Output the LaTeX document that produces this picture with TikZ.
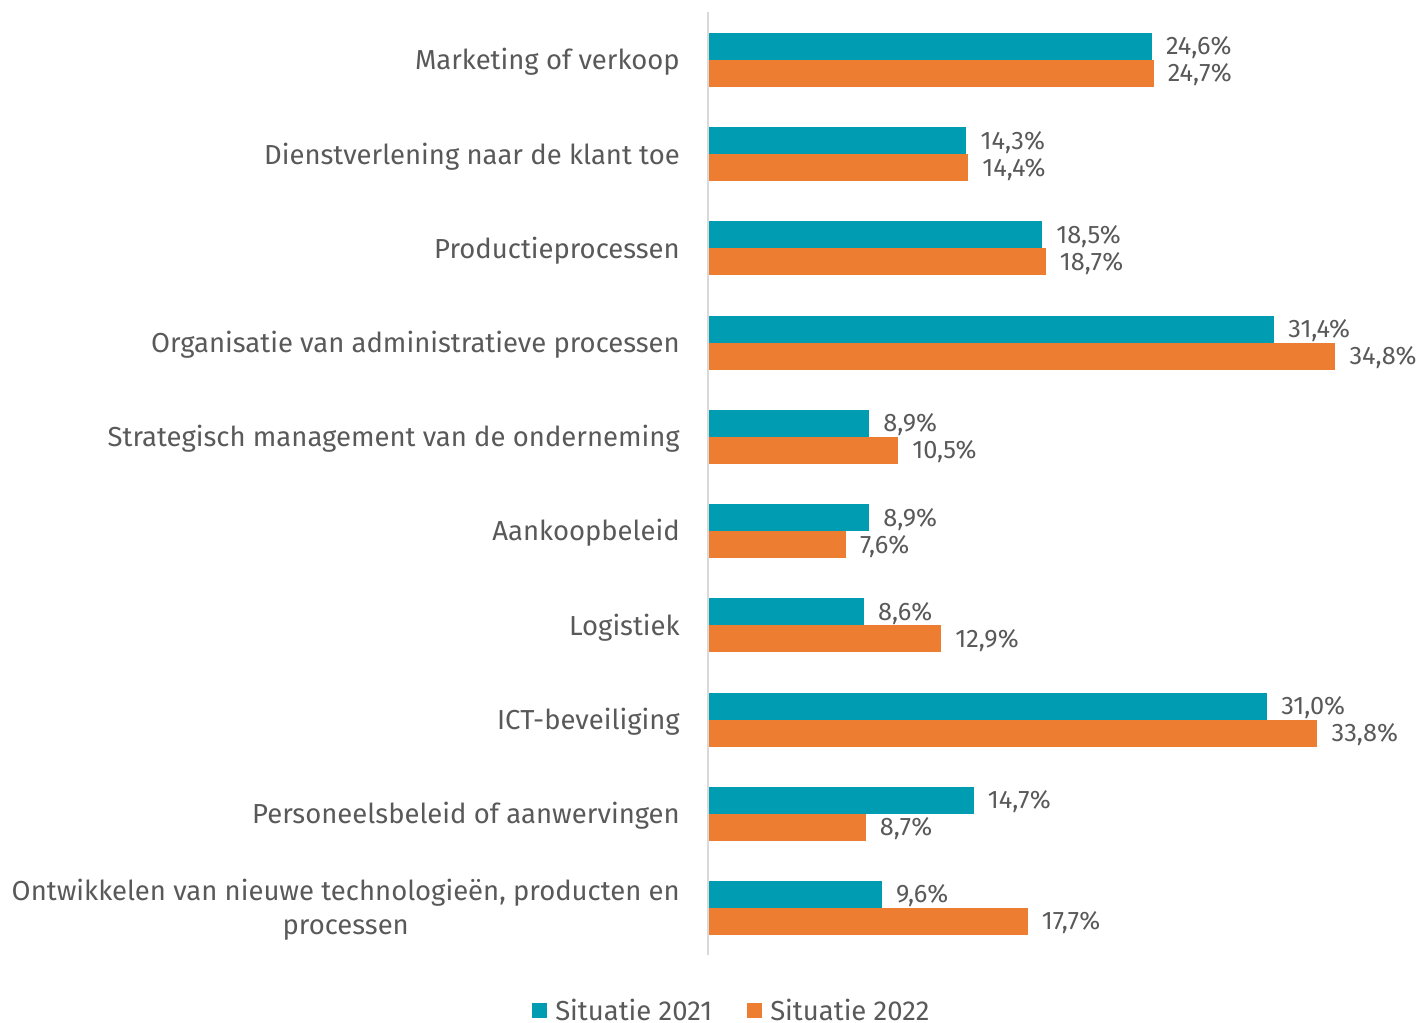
\documentclass[tikz,border=0pt]{standalone}
\usepackage{fontspec}
\setmainfont{Fira Sans}
\definecolor{sit21}{HTML}{009CB1}
\definecolor{sit22}{HTML}{ED7D31}
\definecolor{txtgray}{HTML}{595959}
\definecolor{axisgray}{HTML}{D9D9D9}
\begin{document}
\begin{tikzpicture}[
    x=0.75pt,y=-0.75pt,
    cat/.style={font=\fontsize{20.6}{25.5}\selectfont,text=txtgray,anchor=east,align=center,inner sep=0pt},
    val/.style={font=\fontsize{19}{22}\selectfont,text=txtgray,anchor=west,inner sep=0pt},
    leg/.style={font=\fontsize{20.6}{22}\selectfont,text=txtgray,anchor=west,inner sep=0pt},
    bar21/.style={fill=sit21},
    bar22/.style={fill=sit22},
    axis/.style={draw=axisgray,line width=1.5pt}
]
    \useasboundingbox (0,0) rectangle (1419,1023);
    \coordinate (axtop) at (708,12);
    \coordinate (axbot) at (708,955);
    \draw[axis] (axtop) -- (axbot);
    \foreach \name/\a/\ta/\b/\tb [count=\i from 0] in {
        {Marketing of verkoop}/24.6/{24,6}/24.7/{24,7},
        {Dienstverlening naar de klant toe}/14.3/{14,3}/14.4/{14,4},
        {Productieprocessen}/18.5/{18,5}/18.7/{18,7},
        {Organisatie van administratieve processen}/31.4/{31,4}/34.8/{34,8},
        {Strategisch management van de onderneming}/8.9/{8,9}/10.5/{10,5},
        {Aankoopbeleid}/8.9/{8,9}/7.6/{7,6},
        {Logistiek}/8.6/{8,6}/12.9/{12,9},
        {ICT-beveiliging}/31.0/{31,0}/33.8/{33,8},
        {Personeelsbeleid of aanwervingen}/14.7/{14,7}/8.7/{8,7},
        {Ontwikkelen van nieuwe technologieën, producten en\\processen}/9.6/{9,6}/17.7/{17,7}}{
        \pgfmathsetmacro\yt{33+94.22*\i}
        \fill[bar21] (709,\yt) rectangle ++(18*\a,27);
        \fill[bar22] (709,\yt+27) rectangle ++(18*\b,27);
        \node[cat] (cat-\i) at (680,\yt+29) {\name};
        \node[val] (v21-\i) at (709+18*\a+14,\yt+15) {\ta\%};
        \node[val] (v22-\i) at (709+18*\b+14,\yt+42) {\tb\%};
    }
    % legend
    \fill[bar21] (532,1003) rectangle ++(15,15);
    \node[leg] (leg21) at (555,1010) {Situatie 2021};
    \fill[bar22] (747,1003) rectangle ++(15,15);
    \node[leg] (leg22) at (770,1010) {Situatie 2022};
\end{tikzpicture}
\end{document}
